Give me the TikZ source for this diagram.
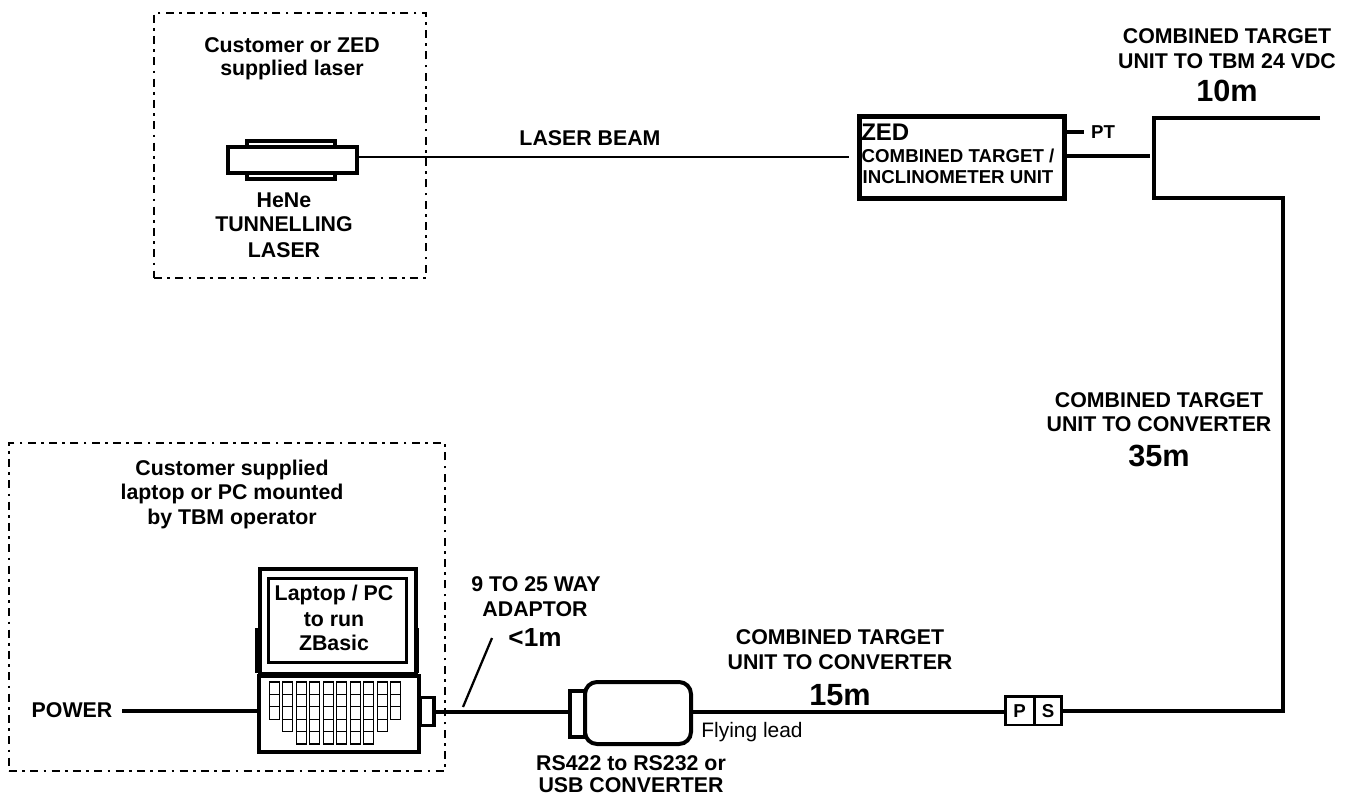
\documentclass[tikz,border=0pt]{standalone}
\usepackage{fontspec}
\setmainfont{Liberation Sans}
\newcommand{\fsA}{\fontsize{16pt}{19pt}\selectfont\bfseries}
\newcommand{\fsB}{\fontsize{23pt}{26pt}\selectfont\bfseries}
\newcommand{\fsC}{\fontsize{14pt}{16pt}\selectfont\bfseries}
\newcommand{\fsD}{\fontsize{15.7pt}{18pt}\selectfont}
\tikzset{
 txt/.style={inner sep=0pt,align=center,font=\fsA},
 big/.style={inner sep=0pt,font=\fsB},
 frame/.style={line width=1.4pt,dash pattern=on 6pt off 4pt on 2pt off 4pt},
 heavy/.style={line width=3pt},
 mid/.style={line width=2pt},
 thin1/.style={line width=1.7pt},
 key/.style={line width=.8pt}
}
\begin{document}
\begin{tikzpicture}[x=.75pt,y=-.75pt]
\useasboundingbox (0,0) rectangle (1349,796);
% frames
\node[frame,draw,minimum width=204pt,minimum height=198.75pt,inner sep=0pt,anchor=north west] (laserframe) at (153,12) {};
\node[frame,draw,minimum width=327pt,minimum height=246pt,inner sep=0pt,anchor=north west] (pcframe) at (8,442) {};
% laser
\node[draw,heavy,minimum width=66pt,minimum height=28.5pt,inner sep=0pt,anchor=north west] (inner) at (245,139) {};
\node[draw,heavy,fill=white,minimum width=96.75pt,minimum height=19.5pt,inner sep=0pt,anchor=north west] (laser) at (226,145) {};
\node[txt] (l1) at (292,45) {Customer or ZED};
\node[txt] (l2) at (292,70) {supplied laser};
\node[txt] (l3) at (284,200) {HeNe};
\node[txt] (l4) at (284,224) {TUNNELLING};
\node[txt] (l5) at (284,250) {LASER};
\node[txt] (beam) at (590,138) {LASER BEAM};
% ZED
\node[draw,line width=3.6pt,minimum width=153.75pt,minimum height=61.5pt,inner sep=0pt,anchor=north west] (zed) at (857,114) {};
\node[inner sep=0pt,anchor=west,font=\fontsize{18pt}{20pt}\selectfont\bfseries] (zedt) at (861,132) {ZED};
\node[txt,font=\fsC] (z1) at (958,156) {COMBINED TARGET /};
\node[txt,font=\fsC] (z2) at (958,177) {INCLINOMETER UNIT};
\coordinate (beamstart) at (357,157);
\coordinate (beamend) at (849,157);
\draw[thin1] (beamstart) -- (beamend);
\node[txt,font=\fsC] (pt) at (1103,132) {PT};
\coordinate (pta) at (1063,132);
\coordinate (ptb) at (1084,132);
\draw[line width=2.6pt] (pta) -- (ptb);
\coordinate (za) at (1063,156);
\coordinate (zb) at (1150,156);
\draw[heavy] (za) -- (zb);
% right cable
\coordinate (ta) at (1320,118);
\coordinate (tb) at (1154,118);
\coordinate (tc) at (1154,198);
\coordinate (td) at (1283,198);
\coordinate (te) at (1283,711);
\coordinate (tf) at (1061,711);
\draw[heavy] (ta) -- (tb) -- (tc) -- (td) -- (te) -- (tf);
\node[txt] (t1) at (1227,36) {COMBINED TARGET};
\node[txt] (t2) at (1227,61) {UNIT TO TBM 24 VDC};
\node[big] (t3) at (1227,91) {10m};
\node[txt] (r1) at (1159,400) {COMBINED TARGET};
\node[txt] (r2) at (1159,424) {UNIT TO CONVERTER};
\node[big] (r3) at (1159,456) {35m};
% PS
\node[draw,mid,minimum width=21.5pt,minimum height=21.5pt,inner sep=0pt,anchor=north west,font=\fsC] (P) at (1004,695) {P};
\node[draw,mid,minimum width=20.5pt,minimum height=21.5pt,inner sep=0pt,anchor=north west,font=\fsC] (S) at (1033,695) {S};
% converter
\coordinate (cablel) at (436,712);
\node[draw,heavy,minimum width=11.25pt,minimum height=34.5pt,inner sep=0pt,anchor=north west] (plug) at (568,689) {};
\node[draw,heavy,fill=white,rounded corners=9pt,minimum width=79.5pt,minimum height=46.5pt,inner sep=0pt,anchor=north west] (conv) at (583,680) {};
\coordinate (cablea) at (conv.east |- cablel);
\coordinate (cableb) at (P.west |- cablel);
\draw[heavy] (cablea) -- (cableb);
\node[txt] (c1) at (840,637) {COMBINED TARGET};
\node[txt] (c2) at (840,662) {UNIT TO CONVERTER};
\node[big] (c3) at (840,695) {15m};
\node[inner sep=0pt,font=\fsD] (fly) at (752,732) {Flying lead};
\node[txt] (c4) at (631,763) {RS422 to RS232 or};
\node[txt] (c5) at (631,785) {USB CONVERTER};
% laptop
\node[draw,line width=3pt,minimum width=117pt,minimum height=79pt,inner sep=0pt,anchor=north west] (lid) at (258,567) {};
\node[draw,mid,minimum width=103.5pt,minimum height=63pt,inner sep=0pt,anchor=north west] (screen) at (267,577) {};
\node[txt] (s1) at (334,595) {Laptop / PC};
\node[txt] (s2) at (334,620) {to run};
\node[txt] (s3) at (334,643) {ZBasic};
\node[draw,line width=2.8pt,minimum width=120pt,minimum height=57pt,inner sep=0pt,anchor=north west] (kb) at (257,674) {};
\fill (255,628) rectangle (258.5,673);
\fill (415,628) rectangle (418.5,673);
\foreach \c/\n in {0/3,1/4,2/5,3/5,4/5,5/5,6/5,7/5,8/4,9/3}{
  \foreach \r in {1,...,\n}{
    \draw[key] ({269.5+\c*13.45},{682+(\r-1)*12.4}) rectangle ({279.5+\c*13.45},{682+\r*12.4});
  }
}
\node[draw,line width=2.6pt,fill=white,minimum width=10pt,minimum height=21pt,inner sep=0pt,anchor=north west] (port) at (419,696) {};
\coordinate (pw) at (122,711);
\coordinate (pwb) at (kb.west |- pw);
\draw[heavy] (pw) -- (pwb);
\node[txt] (power) at (72,710) {POWER};
\coordinate (plugw) at (plug.west |- cablel);
\draw[heavy] (cablel) -- (plugw);
\coordinate (sa) at (463,707);
\coordinate (sb) at (492,638);
\draw[thin1] (sa) -- (sb);
\node[txt] (a1) at (536,584) {9 TO 25 WAY};
\node[txt] (a2) at (535,609) {ADAPTOR};
\node[txt,font=\fontsize{19.6pt}{22pt}\selectfont\bfseries] (a3) at (535,638) {<1m};
\node[txt] (b1) at (232,470) {Customer supplied};
\node[txt] (b2) at (232,494) {laptop or PC mounted};
\node[txt] (b3) at (232,519) {by TBM operator};
\end{tikzpicture}
\end{document}
